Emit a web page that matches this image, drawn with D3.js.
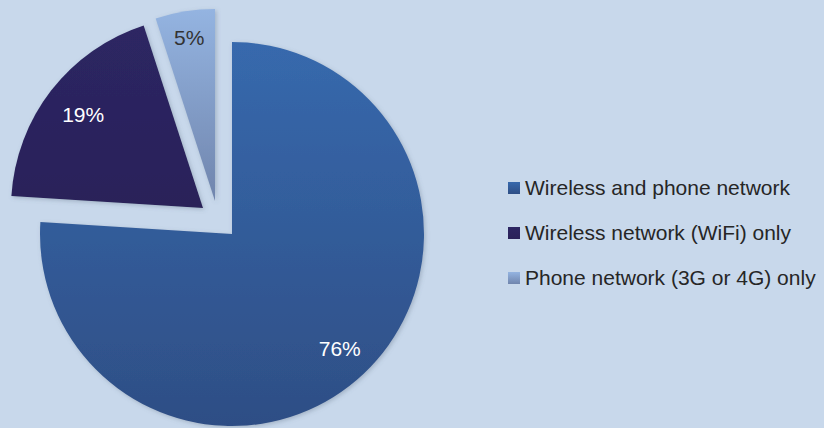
<!DOCTYPE html>
<html>
<head>
<meta charset="utf-8">
<script src="https://cdn.jsdelivr.net/npm/d3@7"></script>
<style>
  html, body { margin: 0; padding: 0; background: #c8d8eb; }
  svg { display: block; font-family: "Liberation Sans", Arial, sans-serif; }
</style>
</head>
<body>
<svg id="chart" width="824" height="428"></svg>
<script>
// Dados
const categorias = ["Wireless and phone network", "Wireless network (WiFi) only", "Phone network (3G or 4G) only"];
const valores = [76, 19, 5];
const rotulos = ["76%", "19%", "5%"];

// Cores (topo / base do degradê) e cor do texto
const corTopo = ["#3769ad", "#2d2663", "#94b4e1"];
const corBase = ["#2e4e85", "#2a2159", "#7085ad"];
const corTexto = ["#ffffff", "#ffffff", "#333333"];

const width = 824;
const height = 428;
const raio = 192;
const centro = [232, 234];
// deslocamento das fatias "explodidas"
const desloc = [[0, 0], [-29, -26], [-17, -33]];
// distância dos rótulos (fração do raio)
const fatorRotulo = [0.82, 0.79, 0.86];

const svg = d3.select("#chart");

svg.append("rect")
    .attr("width", width)
    .attr("height", height)
    .attr("fill", "#c8d8eb");

const defs = svg.append("defs");

// sombra leve
const filtro = defs.append("filter")
    .attr("id", "sombra")
    .attr("x", "-10%").attr("y", "-10%")
    .attr("width", "120%").attr("height", "120%");
filtro.append("feDropShadow")
    .attr("dx", 1.5).attr("dy", 1.5)
    .attr("stdDeviation", 2)
    .attr("flood-color", "#5a6b80")
    .attr("flood-opacity", 0.35);

valores.forEach((v, i) => {
    const g = defs.append("linearGradient")
        .attr("id", "grad" + i)
        .attr("x1", 0).attr("y1", 0)
        .attr("x2", 0).attr("y2", 1);
    g.append("stop").attr("offset", "0%").attr("stop-color", corTopo[i]);
    g.append("stop").attr("offset", "100%").attr("stop-color", corBase[i]);
});

const pie = d3.pie().sort(null).value(d => d);
const arcos = pie(valores);

const arc = d3.arc().innerRadius(0).outerRadius(raio);

const fatias = svg.append("g")
    .attr("transform", `translate(${centro[0]},${centro[1]})`)
    .selectAll("g")
    .data(arcos)
    .enter().append("g")
    .attr("transform", (d, i) => `translate(${desloc[i][0]},${desloc[i][1]})`);

fatias.append("path")
    .attr("d", arc)
    .attr("fill", (d, i) => `url(#grad${i})`)
    .attr("filter", "url(#sombra)");

fatias.append("text")
    .attr("transform", (d, i) => {
        const r = raio * fatorRotulo[i];
        return `translate(${d3.arc().innerRadius(r).outerRadius(r).centroid(d)})`;
    })
    .attr("text-anchor", "middle")
    .attr("dy", "0.35em")
    .attr("font-size", 21)
    .attr("fill", (d, i) => corTexto[i])
    .text((d, i) => rotulos[i]);

// Legenda
const legenda = svg.append("g")
    .attr("transform", "translate(508,182)")
    .selectAll("g")
    .data(categorias)
    .enter().append("g")
    .attr("transform", (d, i) => `translate(0,${i * 45})`);

legenda.append("rect")
    .attr("width", 12)
    .attr("height", 12)
    .attr("fill", (d, i) => `url(#grad${i})`);

legenda.append("text")
    .attr("x", 17)
    .attr("y", 12.5)
    .attr("font-size", 21)
    .attr("fill", "#262626")
    .text(d => d);
</script>
</body>
</html>
